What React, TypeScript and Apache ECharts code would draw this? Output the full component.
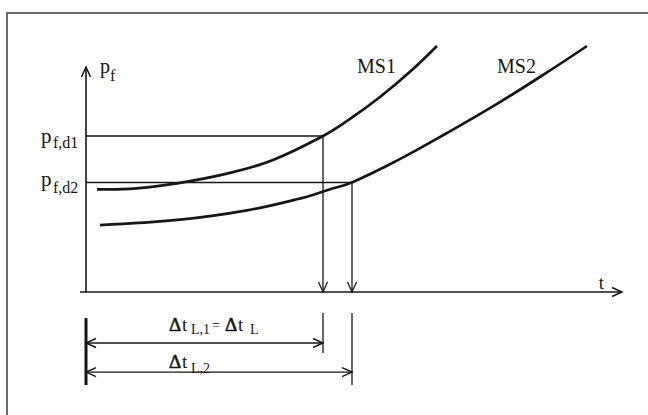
import React, { useEffect, useRef } from "react";
import * as echarts from "echarts";

// Curve MS1 (t, p_f)
const MS1_T = [2.75, 11, 23.5, 36, 46.75, 59.25, 66, 73.5, 81, 87.75];
const MS1_P = [34.2, 34.4, 36.4, 39.7, 44, 52, 57.7, 65, 73.4, 82];
// Curve MS2
const MS2_T = [3.5, 23.5, 40.25, 52.75, 60.5, 66.75, 77.75, 90.25, 102.75, 115.25, 125.25];
const MS2_P = [22.3, 24.1, 27.2, 30.9, 34, 36.7, 43.8, 53, 62.7, 73.2, 82];

// Design pressures and resulting times
const PF_D1 = 52;
const PF_D2 = 36.5;
const T_L1 = 59.25;
const T_L2 = 66.5;

// Axis extents
const T_AXIS_START = -1.5;
const T_AXIS_END = 134;
const P_AXIS_END = 75;

// Dimension-line levels (below the time axis)
const DIM1_LEVEL = -17;
const DIM2_LEVEL = -26.7;
const DIM_TICK_TOP = -7;
const DIM1_TICK_BOTTOM = -20.3;
const DIM2_TICK_BOTTOM = -31;
const DIM_BAR_TOP = -8.7;

const INK = "#161616";
const FONT = "'Liberation Serif', 'DejaVu Serif', serif";

export default function App() {
  const ref = useRef<HTMLDivElement>(null);

  useEffect(() => {
    if (!ref.current) return;
    document.body.style.margin = "0";
    document.body.style.overflow = "hidden";
    const chart = echarts.init(ref.current, undefined, { renderer: "svg" });

    // [x1, y1, x2, y2, arrowMode(0 none, 1 end, 2 both), lineWidth]
    const segments = [
      [0, 0, 0, P_AXIS_END, 1, 1.6],
      [T_AXIS_START, 0, T_AXIS_END, 0, 1, 1.6],
      [0, PF_D1, T_L1, PF_D1, 0, 1.3],
      [0, PF_D2, T_L2, PF_D2, 0, 1.3],
      [T_L1, PF_D1, T_L1, 0, 1, 1.3],
      [T_L2, PF_D2, T_L2, 0, 1, 1.3],
      [T_L1, DIM_TICK_TOP, T_L1, DIM1_TICK_BOTTOM, 0, 1.3],
      [T_L2, DIM_TICK_TOP, T_L2, DIM2_TICK_BOTTOM, 0, 1.3],
      [0, DIM_BAR_TOP, 0, DIM2_TICK_BOTTOM, 0, 3],
      [0, DIM1_LEVEL, T_L1, DIM1_LEVEL, 2, 1.4],
      [0, DIM2_LEVEL, T_L2, DIM2_LEVEL, 2, 1.4],
    ];

    const txt = (
      text: string,
      x: number,
      y: number,
      size: number,
      extra: any = {}
    ) => ({
      type: "text",
      x,
      y,
      style: {
        text,
        fill: INK,
        font: `${size}px ${FONT}`,
        align: "left",
        verticalAlign: "middle",
        ...extra,
      },
    });

    const option: any = {
      animation: false,
      backgroundColor: "#ffffff",
      grid: { left: 78, right: 26, top: 46, bottom: 30 },
      xAxis: { type: "value", min: -2, max: 134, show: false },
      yAxis: { type: "value", min: -31, max: 82, show: false },
      series: [
        {
          type: "line",
          name: "MS1",
          data: MS1_T.map((t, i) => [t, MS1_P[i]]),
          smooth: 0.4,
          symbol: "none",
          clip: false,
          lineStyle: { color: INK, width: 2.7 },
        },
        {
          type: "line",
          name: "MS2",
          data: MS2_T.map((t, i) => [t, MS2_P[i]]),
          smooth: 0.4,
          symbol: "none",
          clip: false,
          lineStyle: { color: INK, width: 2.7 },
        },
        {
          type: "custom",
          clip: false,
          encode: { x: [0, 2], y: [1, 3] },
          data: segments,
          renderItem: (params: any, api: any) => {
            const a = api.coord([api.value(0), api.value(1)]);
            const b = api.coord([api.value(2), api.value(3)]);
            const mode = api.value(4);
            const w = api.value(5);
            const children: any[] = [
              {
                type: "line",
                shape: { x1: a[0], y1: a[1], x2: b[0], y2: b[1] },
                style: { stroke: INK, lineWidth: w },
              },
            ];
            const head = (tip: number[], from: number[]) => {
              const dx = tip[0] - from[0];
              const dy = tip[1] - from[1];
              const len = Math.hypot(dx, dy) || 1;
              const ux = dx / len;
              const uy = dy / len;
              const L = 10;
              const H = 4.5;
              const bx = tip[0] - ux * L;
              const by = tip[1] - uy * L;
              return {
                type: "polyline",
                shape: {
                  points: [
                    [bx - uy * H, by + ux * H],
                    [tip[0], tip[1]],
                    [bx + uy * H, by - ux * H],
                  ],
                },
                style: { stroke: INK, lineWidth: Math.min(w, 1.5), fill: null },
              };
            };
            if (mode >= 1) children.push(head(b, a));
            if (mode >= 2) children.push(head(a, b));
            return { type: "group", children };
          },
        },
      ],
      graphic: [
        {
          type: "polyline",
          shape: { points: [[7, 415], [7, 13], [648, 13]] },
          style: { stroke: "#3a3a3a", lineWidth: 1.5, fill: null },
        },
        // axis label p_f
        txt("p", 100, 66, 20),
        txt("f", 110, 75, 16),
        // p_f,d1
        txt("p", 41, 136, 21),
        txt("f,d1", 53, 142, 16),
        // p_f,d2
        txt("p", 41, 179, 21),
        txt("f,d2", 53, 187, 16),
        // curve names
        txt("MS1", 376.5, 66, 20, { align: "center" }),
        txt("MS2", 516.5, 66, 20, { align: "center" }),
        // time axis label
        txt("t", 601.5, 282, 19, { align: "center" }),
        // Δt_L,1 = Δt_L
        txt("Δ", 169, 324, 19, { stroke: INK, lineWidth: 0.6 }),
        txt("t", 182, 324, 19),
        txt("L,1", 191, 329, 14),
        txt("=", 212, 325, 14),
        txt("Δ", 225, 324, 19, { stroke: INK, lineWidth: 0.6 }),
        txt("t", 238, 324, 19),
        txt("L", 250, 329, 14),
        // Δt_L,2
        txt("Δ", 169, 361, 19, { stroke: INK, lineWidth: 0.6 }),
        txt("t", 182, 361, 19),
        txt("L,2", 191, 368, 14),
      ],
    };

    chart.setOption(option);
    return () => chart.dispose();
  }, []);

  return (
    <div
      ref={ref}
      style={{ position: "absolute", left: 0, top: 0, width: 648, height: 415 }}
    />
  );
}
